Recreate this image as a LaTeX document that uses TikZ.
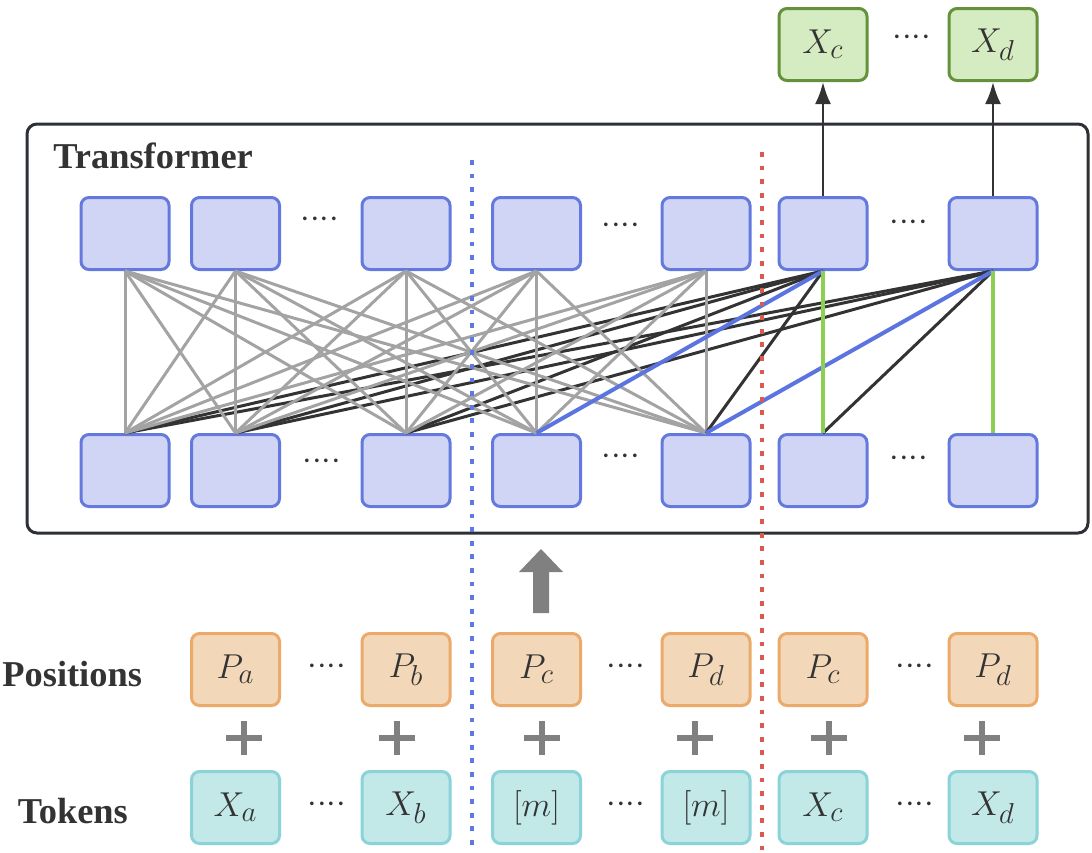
\documentclass[tikz,border=0pt]{standalone}
\usepackage{fontspec}
\newfontfamily\headfont{Liberation Serif}
\usetikzlibrary{arrows.meta}
\DeclareMathSizes{17.5}{17.5}{14}{11}

\definecolor{inkgray}{HTML}{333333}
\definecolor{framegray}{HTML}{2D3136}
\definecolor{layerfill}{HTML}{D1D5F5}
\definecolor{layeredge}{HTML}{6479DE}
\definecolor{posfill}{HTML}{F2D7B9}
\definecolor{posedge}{HTML}{EBAA6A}
\definecolor{tokfill}{HTML}{C2E8E8}
\definecolor{tokedge}{HTML}{8AD3D8}
\definecolor{outfill}{HTML}{D5EBC1}
\definecolor{outedge}{HTML}{63923A}
\definecolor{linkgray}{HTML}{A3A3A3}
\definecolor{linkblue}{HTML}{5C74E0}
\definecolor{linkgreen}{HTML}{8DCF52}
\definecolor{plusgray}{HTML}{808080}
\definecolor{cutblue}{HTML}{6078E0}
\definecolor{cutred}{HTML}{DB5A50}

\newcommand{\skipdots}{${\cdotp}{\cdotp}{\cdotp}{\cdotp}$}

\tikzset{
  layer/.style={draw=layeredge, fill=layerfill, line width=1.5pt,
    rounded corners=4pt, minimum width=44pt, minimum height=36pt,
    inner sep=0pt, text=inkgray, font=\fontsize{17.5}{20}\selectfont},
  posbox/.style={layer, draw=posedge, fill=posfill},
  tokbox/.style={layer, draw=tokedge, fill=tokfill},
  outbox/.style={layer, draw=outedge, fill=outfill},
  gap/.style={text=inkgray, inner sep=0pt, font=\fontsize{17.5}{20}\selectfont},
  headlabel/.style={text=inkgray, inner sep=0pt,
    font=\headfont\bfseries\fontsize{18.2}{21}\selectfont},
  graylink/.style={draw=linkgray, line width=1.5pt},
  darklink/.style={draw=inkgray, line width=1.5pt},
  bluelink/.style={draw=linkblue, line width=2pt},
  greenlink/.style={draw=linkgreen, line width=2.2pt},
  cut/.style={line width=2.3pt, dash pattern=on 2.4pt off 4.4pt},
  plus/.style={draw=plusgray, line width=3pt},
}

\begin{document}
\begin{tikzpicture}[x=0.5pt, y=-0.5pt, >={Latex[length=11pt,width=8pt]}]
    \useasboundingbox (0,0) rectangle (1092,852);

    % Transformer frame.
    \draw[framegray, line width=1.5pt, rounded corners=5pt]
    (27,124) rectangle (1088,533);
    \node[headlabel, anchor=base west] (trlabel) at (53,168) {Transformer};

    % Two layers of hidden states.
    \foreach \i/\x in {1/125, 2/235.5, 3/406, 4/536.5, 5/706, 6/823, 7/993} {
        \node[layer] (t\i) at (\x,233.5) {};
        \node[layer] (b\i) at (\x,470.5) {};
    }
    \node[gap] (tgap1) at (320,220) {\skipdots};
    \node[gap] (tgap2) at (621,226) {\skipdots};
    \node[gap] (tgap3) at (909,223) {\skipdots};
    \node[gap] (bgap1) at (322,462) {\skipdots};
    \node[gap] (bgap2) at (621,457) {\skipdots};
    \node[gap] (bgap3) at (909,459) {\skipdots};

    % Attention links.
    \foreach \i in {1,2,3} {
        \draw[darklink] (t6.south) -- (b\i.north);
        \draw[darklink] (t7.south) -- (b\i.north);
    }
    \foreach \i in {1,...,5} {
        \foreach \j in {1,...,5} {
            \draw[graylink] (t\i.south) -- (b\j.north);
        }
    }
    \draw[darklink] (t6.south) -- (b5.north);
    \draw[darklink] (t7.south) -- (b6.north);
    \draw[bluelink] (t6.south) -- (b4.north);
    \draw[bluelink] (t7.south) -- (b5.north);
    \draw[greenlink] (t6.south) -- (b6.north);
    \draw[greenlink] (t7.south) -- (b7.north);

    % Predicted tokens.
    \node[outbox] (xc) at (823,44.5) {$X_c$};
    \node[outbox] (xd) at (993,44.5) {$X_d$};
    \node[gap] (ogap) at (912,38) {\skipdots};
    \draw[->, inkgray, line width=1.3pt] (t6.north) -- (xc.south);
    \draw[->, inkgray, line width=1.3pt] (t7.north) -- (xd.south);

    % Input feeding the transformer.
    \fill[plusgray] (533,613) -- (533,572) -- (519,572) -- (541,549)
    -- (563,572) -- (549,572) -- (549,613) -- cycle;

    % Positions and tokens.
    \node[headlabel, anchor=base west] (poslabel) at (2,686) {Positions};
    \node[headlabel, anchor=base west] (toklabel) at (17.5,823) {Tokens};

    \node[posbox] (pa) at (235.5,669.5) {$P_a$};
    \node[posbox] (pb) at (406,669.5) {$P_b$};
    \node[posbox] (pc) at (536.5,669.5) {$P_c$};
    \node[posbox] (pd) at (706,669.5) {$P_d$};
    \node[posbox] (pc2) at (823,669.5) {$P_c$};
    \node[posbox] (pd2) at (993,669.5) {$P_d$};

    \node[tokbox] (xa) at (235.5,807.5) {$X_a$};
    \node[tokbox] (xb) at (406,807.5) {$X_b$};
    \node[tokbox] (ma) at (536.5,807.5) {$[m]$};
    \node[tokbox] (mb) at (706,807.5) {$[m]$};
    \node[tokbox] (xc2) at (823,807.5) {$X_c$};
    \node[tokbox] (xd2) at (993,807.5) {$X_d$};

    \node[gap] (pgap1) at (327,667) {\skipdots};
    \node[gap] (pgap2) at (626,667) {\skipdots};
    \node[gap] (pgap3) at (915,667) {\skipdots};
    \node[gap] (kgap1) at (327,805) {\skipdots};
    \node[gap] (kgap2) at (626,805) {\skipdots};
    \node[gap] (kgap3) at (915,805) {\skipdots};

    \foreach \x in {244,397,542,695,829,982}
        \draw[plus] (\x-18,738) -- (\x+18,738) (\x,721) -- (\x,755);

    % Split lines.
    \draw[cut, cutblue] (472,160) -- (472,852);
    \draw[cut, cutred] (762,152) -- (762,852);
\end{tikzpicture}
\end{document}
